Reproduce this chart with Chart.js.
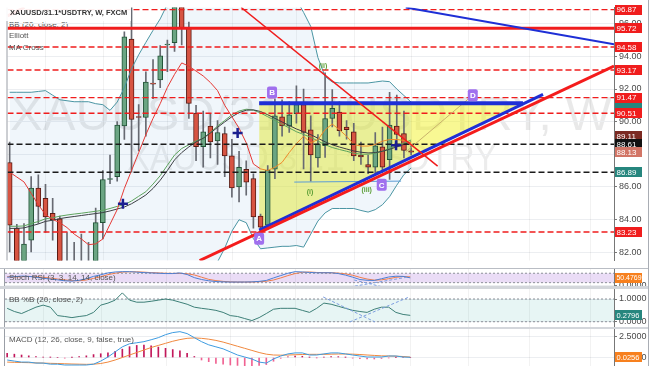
<!DOCTYPE html>
<html>
<head>
<meta charset="utf-8">
<title>XAUUSD/31.1*USDTRY, W, FXCM</title>
<script src="https://cdn.jsdelivr.net/npm/chart.js@4.4.1/dist/chart.umd.min.js"></script>
<style>
  html, body { margin: 0; padding: 0; background: #fff; overflow: hidden; }
  #wrap { position: relative; width: 654px; height: 366px; background: #fff; overflow: hidden; font-family: "Liberation Sans", Arial, sans-serif; }
  canvas { position: absolute; left: 0; }
  .sep { position: absolute; left: 0; width: 648px; background: #d3d6db; }
  .txt { position: absolute; left: 9px; font-size: 8px; line-height: 10px; color: #555; white-space: nowrap; }
  #title { left: 6px; top: 5px; padding: 3px 4px 3px 4px; font-size: 7.5px; font-weight: bold; color: #333; background: rgba(255,255,255,0.92); }
  #vline { position: absolute; left: 648px; top: 0; width: 1px; height: 366px; background: #a9adb4; }
</style>
</head>
<body>
<div id="wrap">
  <div class="txt" style="top:20px">BB (20, close, 2)</div>
  <canvas id="main" width="654" height="268" style="top:0"></canvas>
  <div class="sep" style="top:268px;height:1px;background:#b9bdc4"></div>
  <canvas id="stoch" width="654" height="17" style="top:269px"></canvas>
  <div class="sep" style="top:286px;height:3px"></div>
  <canvas id="bbp" width="654" height="38" style="top:289px"></canvas>
  <div class="sep" style="top:327px;height:2px"></div>
  <canvas id="macd" width="654" height="37" style="top:329px"></canvas>
  <div id="vline"></div>
  <div class="txt" id="title">XAUUSD/31.1*USDTRY, W, FXCM</div>
  <div class="txt" style="top:31px">Elliott</div>
  <div class="txt" style="top:43px">MA Cross</div>
  <div class="txt" style="top:273px">Stoch RSI (3, 3, 14, 14, close)</div>
  <div class="txt" style="top:295px">BB %B (20, close, 2)</div>
  <div class="txt" style="top:335px">MACD (12, 26, close, 9, false, true)</div>
</div>
<script>
const FONT = '"Liberation Sans", Arial, sans-serif';
const X_MIN = -0.3, X_MAX = 84.3;

/* velas semanais */
const opens  = [87.49,83.47,81.3,82.72,85.93,85.3,84.38,84.04,81.3,81.0,80.6,81.4,80.9,83.8,86.45,86.63,89.73,95.07,90.3,90.25,92.35,92.55,94.7,94.84,98.8,95.76,90.53,88.46,89.73,88.81,89.27,87.9,85.99,87.08,86.51,84.21,83.64,87.08,90.3,89.73,90.48,91.05,89.5,87.77,88.52,90.19,90.59,89.67,89.38,87.95,87.37,87.2,88.46,87.66,89.73,89.27,88.2];
const highs  = [88.75,83.7,83.75,86.63,86.74,86.16,85.3,84.2,83.2,82.6,83.1,82.6,84.7,87.0,87.95,90.0,95.5,97.5,91.05,93.06,93.8,94.67,95.0,99.0,99.5,96.1,91.0,90.65,90.47,90.07,89.67,88.92,88.18,87.6,86.8,84.33,87.3,91.4,91.34,91.22,92.2,92.0,90.36,89.21,93.0,91.97,91.22,90.07,89.9,88.75,87.95,89.33,89.67,91.8,91.63,90.65,88.52];
const lows   = [82.0,80.8,80.9,82.0,83.75,83.2,82.72,80.6,80.4,80.2,80.0,80.3,80.5,82.8,86.2,86.34,88.9,86.9,88.2,89.1,91.4,92.08,93.06,94.3,94.7,90.2,87.6,87.2,87.77,87.37,86.63,85.36,85.07,85.48,83.47,83.29,83.4,86.5,89.1,89.33,89.9,87.1,86.34,87.2,87.8,89.67,89.1,88.92,87.6,87.37,86.8,86.8,86.91,86.45,88.46,87.77,87.95];
const closes = [83.64,81.2,82.49,85.93,84.8,84.15,83.98,81.3,81.0,80.6,81.4,80.9,83.8,86.45,86.5,89.79,95.2,90.13,90.25,92.43,92.3,94.04,94.75,98.3,95.76,91.11,88.46,89.38,88.75,89.33,87.9,85.93,87.2,86.28,84.15,83.52,87.03,90.36,89.73,90.42,91.05,89.33,87.95,88.63,90.19,90.82,89.44,89.5,87.9,87.83,87.2,88.52,87.2,89.79,89.21,88.23,88.13];

/* indicadores do painel principal */
const maFast   = [86.9,86.6,86.3,85.6,84.9,84.3,84.0,83.8,83.5,83.1,82.8,82.45,82.5,82.8,83.7,84.6,85.9,87.0,88.1,89.2,90.2,91.1,92.1,92.9,93.6,93.4,93.1,92.8,92.4,91.9,91.0,90.3,89.6,88.7,87.4,87.1,87.0,87.2,87.5,88.1,88.65,89.1,88.7,88.9,89.5,89.85,89.5,89.1,88.6,88.5,88.5,88.6,88.8,88.9,88.9,88.85,88.7];
const maCrossA = [83.58,83.58,83.6,83.75,83.87,84.04,84.1,84.2,84.27,84.33,84.38,84.44,84.5,84.56,84.67,84.8,84.9,85.13,85.42,85.7,86.17,86.68,87.32,87.95,88.35,88.58,88.81,88.98,89.33,89.73,90.07,90.42,90.65,90.76,90.7,90.53,90.3,90.07,89.84,89.61,89.38,89.21,89.04,88.81,88.58,88.41,88.29,88.18,88.06,88.0,88.0,88.06,88.18,88.35,88.52,88.69,88.87];
const maCrossB = [83.45,83.45,83.48,83.6,83.72,83.88,83.95,84.05,84.12,84.18,84.24,84.3,84.36,84.42,84.52,84.64,84.76,84.96,85.22,85.5,85.9,86.4,87.0,87.65,88.1,88.45,88.75,88.98,89.3,89.65,89.98,90.3,90.55,90.7,90.72,90.62,90.42,90.2,89.98,89.76,89.55,89.38,89.2,88.98,88.76,88.58,88.44,88.32,88.2,88.12,88.08,88.1,88.18,88.3,88.45,88.6,88.76];
const bbUpper  = [91.8,91.8,91.8,91.8,91.85,91.9,91.62,91.34,91.28,91.22,91.22,91.22,91.1,91.04,90.69,91.2,92.08,93.24,94.1,94.86,95.6,96.3,97.2,98.0,98.8,99.4,99.8,100.0,100.0,99.9,99.7,99.4,99.1,98.9,98.7,98.5,98.4,98.3,98.1,97.9,97.5,96.7,95.84,93.93,92.77,92.43,92.37,92.37,92.37,92.37,92.37,92.43,92.49,92.45,92.0,91.6,91.2];
const bbLower  = [80.5,80.3,80.0,79.6,79.4,79.3,79.2,79.0,78.8,78.7,78.6,78.5,78.5,78.6,78.7,78.8,78.6,78.4,78.5,78.8,79.2,79.6,80.0,80.2,80.4,80.6,80.8,81.0,81.2,81.4,82.24,83.28,83.98,83.8,82.82,82.2,82.25,82.3,82.35,82.35,82.4,82.3,83.1,83.9,84.4,84.67,84.67,84.67,84.67,84.55,84.45,84.6,84.9,85.4,86.1,86.75,87.16];

/* níveis horizontais e marcas do eixo */
const levelsRed   = [96.87, 94.58, 93.17, 91.47, 90.51, 83.23];
const levelSolid  = 95.72;
const levelsBlack = [88.61, 86.89];
const priceTicks  = [82, 84, 86, 88, 90, 92, 94, 96];
const bandTag     = 91.12;
const tagValues   = [96.87, 95.72, 94.58, 93.17, 91.47, 90.51, 89.11, 88.61, 88.13, 86.89, 83.23];
const tagColors   = ['#f01d1d','#f01d1d','#f01d1d','#f01d1d','#f01d1d','#f01d1d','#7b2a22','#111111','#d27566','#26867e','#f01d1d'];

/* desenhos (índice da barra, preço) */
const redTrendX   = [26.5, 84.3],  redTrendY   = [81.48, 93.41];
const blueTrendX  = [34.8, 74.4],  blueTrendY  = [83.34, 91.67];
const blueFlatX   = [34.8, 71.6],  blueFlatY   = [91.12, 91.12];
const redDownX    = [32.3, 59.7],  redDownY    = [97.0, 87.27];
const blueTopX    = [55.25, 84.3], blueTopY    = [97.0, 94.74];
const redCornerX  = [-0.3, 2.06],  redCornerY  = [96.48, 97.0];
const waveLineX   = [39.7, 54.6],  waveLineY   = [86.29, 86.35];
const cdLineX     = [55.25, 64.6], cdLineY     = [88.14, 91.62];
const triX = [34.8, 71.6], triY = [83.34, 91.12], triTop = 91.12;
const pointLabels = ['A', 'B', 'C', 'D'];
const pointX = [34.8, 36.6, 51.9, 64.6];
const pointY = [82.82, 91.79, 86.12, 91.62];
const waveLabels = ['(i)', '(ii)', '(iii)'];
const waveX = [41.9, 43.7, 49.8];
const waveY = [85.65, 93.41, 85.83];
const crossX = [15.8, 31.8, 53.9];
const crossY = [84.96, 89.3, 88.55];
const gridBars = [5, 13, 22, 31, 40, 48, 56, 64, 72.5, 81];

/* Stoch RSI */
const stochK = [55,58,62,60,55,48,43,38,32,30,35,45,60,70,82,88,90,90,87,84,82,80,78,78,82,72,52,40,32,27,25,24,24,24,25,28,34,50,65,80,90,88,85,83,83,83,78,68,55,40,35,34,45,56,61,60,50.4769];
const stochD = [58,56,58,60,58,54,49,43,38,33,32,37,47,58,71,80,87,89,89,87,84,82,80,79,79,77,69,55,41,33,28,25,24,24,24,26,29,37,50,65,78,86,88,85,84,83,81,76,67,54,43,36,38,45,54,59,57];
const stochDrawA = [47.6, 55.7], stochDrawAY = [-7.6, 56];
const stochDrawB = [48.2, 52.2], stochDrawBY = [37, -7.6];

/* BB %B */
const pctB = [0.59,0.45,0.36,0.5,0.64,0.73,0.64,0.27,0.23,0.18,0.23,0.27,0.41,0.73,0.82,0.95,1.27,0.95,0.86,0.86,0.9,0.95,1.0,0.95,0.86,0.77,0.64,0.59,0.55,0.5,0.41,0.27,0.23,0.14,0.05,0.18,0.36,0.55,0.59,0.59,0.59,0.5,0.41,0.59,0.82,0.77,0.68,0.59,0.5,0.45,0.41,0.55,0.64,0.64,0.41,0.32,0.2796];
const pctDrawA = [43.9, 51.1], pctDrawAY = [1.09, -0.01];
const pctDrawB = [47.6, 55.7], pctDrawBY = [-0.01, 1.07];

/* MACD */
const macdLine   = [-0.3,-0.43,-0.55,-0.55,-0.67,-0.67,-0.8,-0.8,-0.9,-0.9,-0.9,-0.9,-0.8,-0.43,0.06,0.67,1.28,1.65,1.77,1.9,2.13,2.38,2.74,2.99,3.1,2.87,2.38,1.9,1.52,1.28,1.04,0.67,0.3,0.06,-0.18,-0.55,-0.67,-0.18,0.18,0.43,0.55,0.55,0.3,0.3,0.43,0.55,0.55,0.43,0.3,0.18,0.06,0.06,0.06,0.18,0.18,0.06,0.0256];
const signalLine = [-0.55,-0.58,-0.6,-0.62,-0.65,-0.67,-0.7,-0.72,-0.75,-0.78,-0.8,-0.82,-0.8,-0.72,-0.55,-0.3,0.0,0.3,0.6,0.9,1.2,1.45,1.7,1.95,2.15,2.3,2.35,2.3,2.2,2.05,1.85,1.6,1.35,1.1,0.85,0.6,0.4,0.3,0.28,0.3,0.33,0.36,0.38,0.38,0.38,0.4,0.42,0.42,0.4,0.36,0.3,0.25,0.2,0.18,0.16,0.12,0.05];
const macdHist   = [0.5,0.4,0.3,0.2,0.12,0.05,0.02,0,-0.08,0.02,0.1,0.2,0.35,0.45,0.55,0.75,1.0,1.3,1.45,1.5,1.4,1.25,1.1,0.95,0.8,0.5,0.12,-0.3,-0.5,-0.7,-0.8,-0.9,-0.95,-1.0,-1.0,-0.95,-0.85,-0.45,-0.1,0.08,0.18,0.15,0.02,-0.02,0.05,0.12,0.1,0.02,-0.08,-0.15,-0.18,-0.18,-0.12,-0.04,0.02,0,0];

/* helpers */
function pts(values) { return values.map((v, i) => ({ x: i, y: v })); }
function seg(xs, ys, color, width, dash, order) {
  return { type: 'line', data: [{ x: xs[0], y: ys[0] }, { x: xs[1], y: ys[1] }],
    borderColor: color, borderWidth: width, borderDash: dash || [], pointRadius: 0, fill: false, order: order };
}
function serie(values, color, width, order) {
  return { type: 'line', data: pts(values), borderColor: color, borderWidth: width,
    pointRadius: 0, tension: 0, fill: false, order: order };
}
function tag(chart, value, bg, text, size) {
  const { ctx, scales: { y }, chartArea: a } = chart;
  const py = y.getPixelForValue(value);
  ctx.fillStyle = bg;
  ctx.fillRect(a.right + 1, Math.round(py - 5), 27, 10);
  if (!text) return;
  ctx.fillStyle = '#fff';
  ctx.font = (size || 8) + 'px ' + FONT;
  ctx.textAlign = 'left';
  ctx.textBaseline = 'middle';
  ctx.fillText(text, a.right + 2.5, py + 0.5, 25);
}

const moldura = {
  id: 'moldura',
  beforeDatasetsDraw(chart) {
    const { ctx, chartArea: a, scales: { x } } = chart;
    ctx.save();
    ctx.strokeStyle = 'rgba(0,0,0,0.05)';
    ctx.lineWidth = 1;
    gridBars.forEach(b => {
      const px = Math.round(x.getPixelForValue(b)) + 0.5;
      ctx.beginPath(); ctx.moveTo(px, a.top); ctx.lineTo(px, a.bottom); ctx.stroke();
    });
    ctx.restore();
  },
  afterDraw(chart) {
    const { ctx, chartArea: a } = chart;
    ctx.save();
    ctx.strokeStyle = '#9a9ea6';
    ctx.beginPath(); ctx.moveTo(a.left - 0.5, a.top); ctx.lineTo(a.left - 0.5, a.bottom); ctx.stroke();
    ctx.restore();
  }
};

function paneOptions(yMin, yMax, ticks, digits) {
  return {
    responsive: false, animation: false, events: [],
    layout: { padding: { left: 5, right: 0, top: 0, bottom: 0 } },
    plugins: { legend: { display: false }, tooltip: { enabled: false }, filler: { drawTime: 'beforeDatasetsDraw' } },
    scales: {
      x: { type: 'linear', min: X_MIN, max: X_MAX, display: false, offset: false },
      y: {
        type: 'linear', position: 'right', min: yMin, max: yMax, beginAtZero: false,
        afterBuildTicks: s => { s.ticks = ticks.map(v => ({ value: v })); },
        afterFit: s => { s.width = 40; s.paddingTop = 0; s.paddingBottom = 0; },
        grid: { color: '#eceef1', tickLength: 3, tickColor: '#777' },
        border: { color: '#777' },
        ticks: { autoSkip: false, padding: 2, color: '#4a4a4a', font: { size: 9, family: FONT },
          callback: v => Number(v).toFixed(digits) }
      }
    }
  };
}

/* painel principal */
const upBody = '#6ba583', upEdge = '#225437', downBody = '#d75442', downEdge = '#5b1a13';
const candleFill = closes.map((c, i) => c >= opens[i] ? upBody : downBody);
const candleEdge = closes.map((c, i) => c >= opens[i] ? upEdge : downEdge);

const mainSets = [
  { type: 'line', data: pts(bbUpper), borderColor: '#4a95a3', borderWidth: 1, pointRadius: 0, fill: '+1', backgroundColor: 'rgba(70,140,200,0.08)', order: 13 },
  { type: 'line', data: pts(bbLower), borderColor: '#4a95a3', borderWidth: 1, pointRadius: 0, fill: false, order: 13 },
  { type: 'line', data: [{ x: triX[0], y: triY[0] }, { x: triX[1], y: triY[1] }], borderWidth: 0, pointRadius: 0,
    fill: { value: triTop }, backgroundColor: 'rgba(242,242,40,0.5)', order: 19 },
  { type: 'bar', data: lows.map((l, i) => ({ x: i, y: [l, highs[i]] })), backgroundColor: '#676a72',
    barThickness: 1, grouped: false, order: 15 },
  { type: 'bar', data: opens.map((o, i) => ({ x: i, y: [o, closes[i]] })), backgroundColor: candleFill,
    borderColor: candleEdge, borderWidth: 1, borderSkipped: false, barThickness: 5, minBarLength: 1, grouped: false, order: 14 },
  serie(maCrossB, '#3c3f44', 1, 12),
  serie(maCrossA, '#5da35d', 1, 12),
  Object.assign(serie(maFast, '#e53935', 1, 11), {
    segment: { borderColor: c => c.p0DataIndex >= 35 ? '#ee8a2a' : '#e53935' } })
];
levelsRed.forEach(v => mainSets.push(seg([X_MIN, X_MAX], [v, v], '#f01d1d', 1.4, [6, 3], 5)));
mainSets.push(seg([X_MIN, X_MAX], [levelSolid, levelSolid], '#f01d1d', 3, [], 5));
levelsBlack.forEach(v => mainSets.push(seg([X_MIN, X_MAX], [v, v], '#1b1b1b', 1.4, [6, 3], 5)));
mainSets.push(
  seg(waveLineX, waveLineY, '#5b9bd5', 1, [], 4),
  seg(cdLineX, cdLineY, '#c9b36b', 1, [], 4),
  seg(redDownX, redDownY, '#f01d1d', 1.5, [], 3),
  seg(blueTopX, blueTopY, '#1e2fd6', 2, [], 3),
  seg(redCornerX, redCornerY, '#f01d1d', 3, [], 3),
  seg(blueFlatX, blueFlatY, '#1e2fd6', 4, [], 3),
  seg(blueTrendX, blueTrendY, '#1e2fd6', 3, [], 3),
  seg(redTrendX, redTrendY, '#f41c1c', 3, [], 2),
  { type: 'line', data: crossX.map((x, i) => ({ x: x, y: crossY[i] })), showLine: false,
    pointStyle: 'cross', pointRadius: 5, pointBorderWidth: 2.5, pointBorderColor: '#1b1f8f', order: 1 }
);

const mainPlugin = {
  id: 'mainExtras',
  beforeDraw(chart) {
    const { ctx } = chart;
    ctx.save();
    ctx.fillStyle = 'rgba(0,0,0,0.085)';
    ctx.textBaseline = 'alphabetic';
    ctx.font = '49px ' + FONT;
    let t = 'XAUUSD/31.1*USDTRY, W';
    let w = ctx.measureText(t).width;
    ctx.translate(10, 130); ctx.scale(602 / w, 1); ctx.fillText(t, 0, 0);
    ctx.restore();
    ctx.save();
    ctx.fillStyle = 'rgba(0,0,0,0.075)';
    ctx.font = '37px ' + FONT;
    t = 'XAUUSD/31.1*USDTRY';
    w = ctx.measureText(t).width;
    ctx.translate(127, 170); ctx.scale(370 / w, 1); ctx.fillText(t, 0, 0);
    ctx.restore();
  },
  afterDatasetsDraw(chart) {
    const { ctx, scales: { x, y } } = chart;
    ctx.save();
    ctx.textAlign = 'center';
    ctx.textBaseline = 'middle';
    pointLabels.forEach((s, i) => {
      const px = x.getPixelForValue(pointX[i]), py = y.getPixelForValue(pointY[i]);
      ctx.fillStyle = '#a070ee';
      ctx.beginPath(); ctx.roundRect(px - 5, py - 6, 10, 12, 2); ctx.fill();
      ctx.fillStyle = '#fff';
      ctx.font = 'bold 8px ' + FONT;
      ctx.fillText(s, px, py + 0.5);
    });
    ctx.fillStyle = '#5c9e36';
    ctx.font = 'bold 7px ' + FONT;
    waveLabels.forEach((s, i) => ctx.fillText(s, x.getPixelForValue(waveX[i]), y.getPixelForValue(waveY[i])));
    ctx.restore();
  },
  afterDraw(chart) {
    chart.ctx.save();
    tag(chart, bandTag, '#26867e', '');
    tagValues.forEach((v, i) => tag(chart, v, tagColors[i], v.toFixed(2)));
    chart.ctx.restore();
  }
};

new Chart(document.getElementById('main'), {
  type: 'bar',
  data: { datasets: mainSets },
  options: paneOptions(81.48, 97.0, priceTicks, 2),
  plugins: [moldura, mainPlugin]
});

/* Stoch RSI */
const lastK = stochK[stochK.length - 1];
new Chart(document.getElementById('stoch'), {
  type: 'line',
  data: { datasets: [
    Object.assign(seg([X_MIN, X_MAX], [80, 80], '#8c8f98', 1, [2, 2], 9), { fill: { value: 20 }, backgroundColor: 'rgba(150,80,210,0.2)' }),
    seg([X_MIN, X_MAX], [20, 20], '#8c8f98', 1, [2, 2], 9),
    serie(stochD, '#ee7d4a', 1, 3),
    serie(stochK, '#4a7fd4', 1, 2),
    seg(stochDrawA, stochDrawAY, '#7d9ee0', 1, [3, 2], 1),
    seg(stochDrawB, stochDrawBY, '#7d9ee0', 1, [3, 2], 1)
  ] },
  options: paneOptions(-1.3, 107, [0], 4),
  plugins: [moldura, { id: 'stochTag', afterDraw: c => tag(c, lastK, '#f7801e', lastK.toFixed(4), 7) }]
});

/* BB %B */
const lastB = pctB[pctB.length - 1];
new Chart(document.getElementById('bbp'), {
  type: 'line',
  data: { datasets: [
    Object.assign(seg([X_MIN, X_MAX], [1, 1], '#8c8f98', 1, [2, 2], 9), { fill: { value: 0 }, backgroundColor: 'rgba(38,166,154,0.11)' }),
    seg([X_MIN, X_MAX], [0, 0], '#8c8f98', 1, [2, 2], 9),
    serie(pctB, '#3d7f77', 1, 2),
    seg(pctDrawA, pctDrawAY, '#7d9ee0', 1, [3, 2], 1),
    seg(pctDrawB, pctDrawBY, '#7d9ee0', 1, [3, 2], 1)
  ] },
  options: paneOptions(-0.233, 1.441, [0, 1], 4),
  plugins: [moldura, { id: 'pctTag', afterDraw: c => tag(c, lastB, '#26867e', lastB.toFixed(4), 7.5) }]
});

/* MACD */
const lastM = macdLine[macdLine.length - 1];
new Chart(document.getElementById('macd'), {
  type: 'bar',
  data: { datasets: [
    { type: 'bar', data: pts(macdHist), backgroundColor: macdHist.map(v => v >= 0 ? '#c2185b' : '#f06292'),
      barThickness: 1, grouped: false, order: 5 },
    serie(signalLine, '#f0883e', 1, 3),
    serie(macdLine, '#3d9be0', 1, 2)
  ] },
  options: paneOptions(-1.02, 3.42, [0, 2.5], 4),
  plugins: [moldura, { id: 'macdTag', afterDraw: c => tag(c, lastM, '#f7801e', lastM.toFixed(4), 7.5) }]
});
</script>
</body>
</html>
